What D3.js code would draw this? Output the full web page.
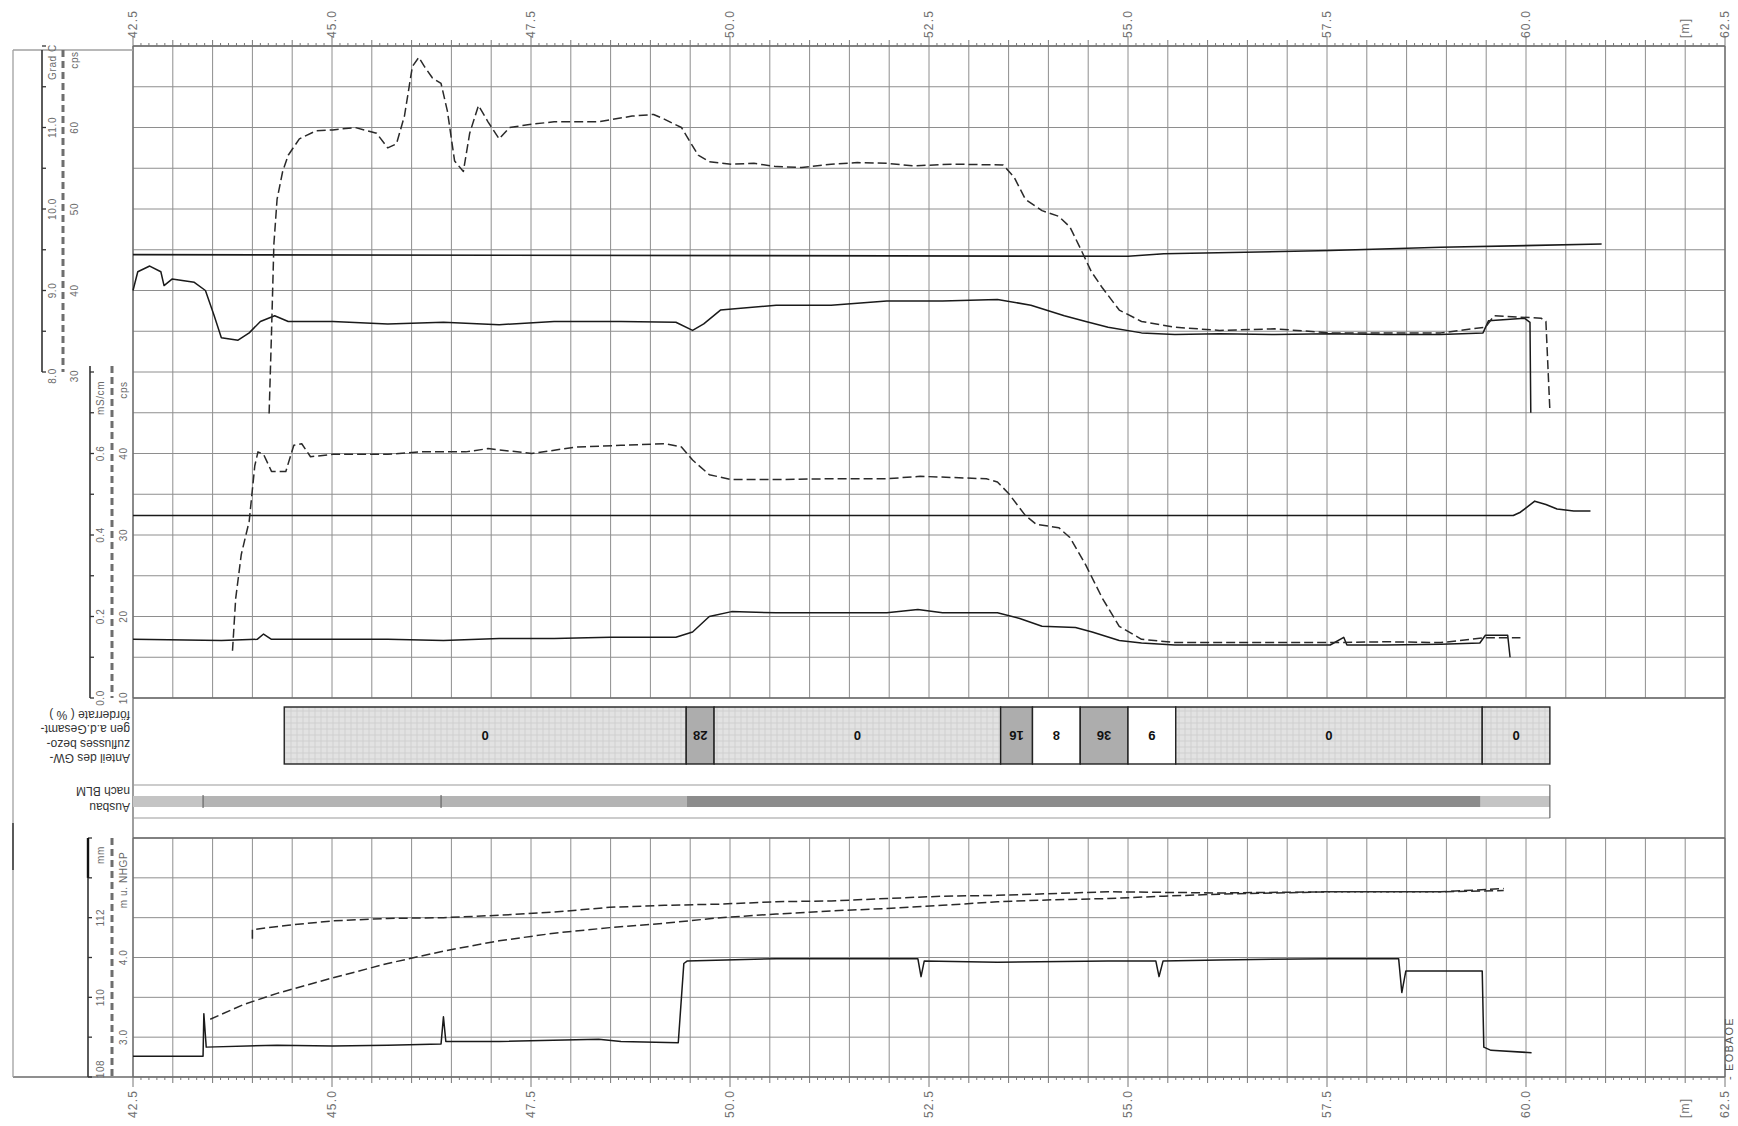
<!DOCTYPE html>
<html>
<head>
<meta charset="utf-8">
<script src="https://cdn.jsdelivr.net/npm/d3@7"></script>
<style>
body { margin: 0; background: #fff; }
svg { display: block; font-family: "Liberation Sans", Arial, sans-serif; }
</style>
</head>
<body>
<svg id="chart" width="1738" height="1126"></svg>
<script>
// depth ticks (m)
const depthLabels = ["42.5", "45.0", "47.5", "50.0", "52.5", "55.0", "57.5", "60.0", "62.5"];

// left scale labels
const tempTicks = [8, 9, 10, 11];
const cpsUpperTicks = [30, 40, 50, 60];
const condTicks = [0, 0.2, 0.4, 0.6];
const cpsLowerTicks = [10, 20, 30, 40];
const levelTicks = [108, 110, 112];
const diaTicks = [3, 4];

// upper panel: gamma (cps, dashed) and temperature (Grad C, solid)
const gammaUpper = [[44.21,24.9],[44.24,34.8],[44.27,45.7],[44.31,51.2],[44.38,54.6],[44.45,56.6],[44.59,58.6],[44.80,59.6],[45.01,59.7],[45.29,60.0],[45.56,59.3],[45.70,57.5],[45.81,58.0],[45.91,61.4],[46.01,67.5],[46.09,68.6],[46.16,67.5],[46.26,66.1],[46.37,65.4],[46.45,62.0],[46.54,55.9],[46.65,54.6],[46.73,59.3],[46.84,62.7],[46.96,60.7],[47.10,58.6],[47.23,60.0],[47.51,60.4],[47.79,60.7],[48.35,60.7],[48.77,61.4],[49.04,61.6],[49.18,61.0],[49.39,60.0],[49.60,56.6],[49.74,55.8],[50.02,55.5],[50.3,55.6],[50.58,55.2],[50.9,55.1],[51.27,55.5],[51.6,55.7],[51.97,55.6],[52.3,55.3],[52.80,55.5],[53.43,55.4],[53.57,53.9],[53.71,51.2],[53.92,49.8],[54.13,49.1],[54.27,47.8],[54.41,45.0],[54.54,42.3],[54.68,40.3],[54.89,37.6],[55.17,36.2],[55.59,35.5],[56.15,35.1],[56.84,35.3],[57.54,34.8],[58.24,34.8],[58.93,34.8],[59.49,35.5],[59.60,36.9],[60.19,36.6],[60.25,36.2],[60.30,25.3]];
const tempUpper = [[42.50,9.00],[42.56,9.23],[42.71,9.30],[42.85,9.23],[42.89,9.06],[42.99,9.14],[43.27,9.10],[43.41,9.00],[43.52,8.69],[43.61,8.42],[43.82,8.39],[43.96,8.48],[44.10,8.62],[44.28,8.69],[44.45,8.62],[45.01,8.62],[45.70,8.59],[46.40,8.61],[47.10,8.58],[47.79,8.62],[48.63,8.62],[49.32,8.61],[49.53,8.51],[49.67,8.59],[49.88,8.76],[50.58,8.82],[51.27,8.82],[51.97,8.87],[52.67,8.87],[53.36,8.89],[53.78,8.82],[54.20,8.69],[54.47,8.62],[54.75,8.55],[55.17,8.48],[55.59,8.46],[56.15,8.47],[56.84,8.46],[57.54,8.47],[58.24,8.46],[58.93,8.46],[59.46,8.48],[59.53,8.63],[59.98,8.66],[60.05,8.61],[60.06,7.50]];
const tempRef = [[42.50,9.44],[55.00,9.42],[55.45,9.45],[57.54,9.49],[58.93,9.53],[60.95,9.57]];

// middle panel: gamma (cps, dashed) and conductivity (mS/cm, solid)
const gammaLower = [[43.75,15.8],[43.79,22.2],[43.86,27.6],[43.96,31.7],[44.03,38.5],[44.07,40.2],[44.14,39.9],[44.24,37.8],[44.42,37.8],[44.52,41.0],[44.62,41.2],[44.73,39.6],[45.01,39.9],[45.70,39.9],[46.12,40.2],[46.68,40.2],[46.96,40.6],[47.51,40.0],[48.07,40.8],[48.63,41.0],[49.18,41.2],[49.39,40.8],[49.53,39.2],[49.74,37.4],[50.02,36.8],[50.58,36.8],[51.27,36.9],[51.97,36.9],[52.39,37.2],[53.22,36.9],[53.36,36.5],[53.50,35.1],[53.71,32.4],[53.85,31.3],[54.13,30.9],[54.27,29.7],[54.47,26.3],[54.68,22.2],[54.89,18.8],[55.17,17.2],[55.59,16.8],[56.15,16.8],[56.84,16.8],[57.54,16.8],[58.24,16.9],[58.93,16.8],[59.49,17.4],[59.93,17.4]];
const condLower = [[42.50,0.144],[43.61,0.141],[44.06,0.144],[44.14,0.157],[44.24,0.144],[45.70,0.144],[46.40,0.141],[47.10,0.146],[47.79,0.146],[48.49,0.149],[49.32,0.149],[49.53,0.162],[49.74,0.200],[50.02,0.212],[50.58,0.209],[51.97,0.209],[52.36,0.217],[52.67,0.209],[53.36,0.209],[53.64,0.195],[53.92,0.176],[54.34,0.173],[54.55,0.162],[54.89,0.141],[55.17,0.135],[55.59,0.130],[57.54,0.130],[57.71,0.149],[57.75,0.130],[58.24,0.130],[58.93,0.132],[59.42,0.135],[59.49,0.154],[59.77,0.154],[59.80,0.100]];
const condRef = [[42.50,0.448],[59.84,0.448],[59.93,0.456],[60.11,0.483],[60.25,0.475],[60.39,0.464],[60.60,0.459],[60.81,0.459]];

// inflow share of total pumping rate (%)
const inflowEdges = [44.4, 49.45, 49.8, 53.4, 53.8, 54.4, 55.0, 55.6, 59.45, 60.3];
const inflowValues = [0, 28, 0, 16, 8, 36, 9, 0, 0];

// well construction (Ausbau)
const casingEdges = [42.5, 43.38, 46.37, 49.46, 59.43, 60.3];
const casingType = [1, 2, 2, 3, 1];

// lower panel: levels (m / mm)
const levelSolid = [[42.50,108.52],[43.38,108.52],[43.39,109.59],[43.42,108.75],[44.31,108.80],[45.01,108.78],[45.70,108.80],[46.37,108.83],[46.40,109.51],[46.43,108.89],[47.10,108.89],[48.35,108.95],[48.63,108.89],[49.35,108.86],[49.42,110.85],[49.46,110.91],[50.58,110.97],[51.97,110.97],[52.36,110.97],[52.40,110.52],[52.44,110.91],[53.36,110.88],[54.75,110.91],[55.35,110.91],[55.39,110.52],[55.44,110.91],[56.15,110.94],[57.54,110.97],[58.40,110.97],[58.44,110.12],[58.49,110.66],[58.93,110.66],[59.45,110.66],[59.47,108.75],[59.56,108.67],[60.07,108.61]];
const levelDash1 = [[43.47,109.45],[43.89,109.82],[44.31,110.10],[45.01,110.49],[45.70,110.85],[46.40,111.16],[47.10,111.42],[47.79,111.61],[48.49,111.75],[49.18,111.86],[49.88,112.0],[50.58,112.09],[51.27,112.17],[51.97,112.23],[52.67,112.31],[53.36,112.40],[54.06,112.45],[54.75,112.48],[55.45,112.54],[56.15,112.59],[57.54,112.65],[58.93,112.65],[59.72,112.68]];
const levelDash2 = [[44.0,111.47],[44.0,111.70],[44.45,111.81],[45.01,111.92],[45.70,111.98],[46.40,112.0],[47.10,112.06],[47.79,112.14],[48.49,112.26],[49.18,112.31],[49.88,112.34],[50.58,112.40],[51.27,112.42],[51.97,112.48],[52.67,112.54],[53.36,112.56],[54.75,112.65],[56.15,112.62],[57.54,112.65],[58.93,112.65],[59.72,112.73]];

const svg = d3.select("#chart");

const x = d3.scaleLinear().domain([42.5, 62.5]).range([133, 1725]);
const yTemp = d3.scaleLinear().domain([8, 12]).range([372, 46]);
const yCps1 = d3.scaleLinear().domain([30, 70]).range([372, 46]);
const yCond = d3.scaleLinear().domain([0, 0.8]).range([698, 372]);
const yCps2 = d3.scaleLinear().domain([10, 50]).range([698, 372]);
const yLevel = d3.scaleLinear().domain([108, 114]).range([1077, 838]);
const yDia = d3.scaleLinear().domain([2.5, 5.5]).range([1077, 838]);

const defs = svg.append("defs");
const pat = defs.append("pattern").attr("id", "hatch").attr("patternUnits", "userSpaceOnUse")
    .attr("width", 6).attr("height", 6);
pat.append("rect").attr("width", 6).attr("height", 6).attr("fill", "#e2e2e2");
pat.append("path").attr("d", "M0 3H6M3 0V6").attr("stroke", "#d0d0d0").attr("stroke-width", 1);

// grid
const grid = svg.append("g").attr("stroke", "#8e8e8e").attr("stroke-width", 1);
const xGrid = d3.range(425, 626, 5).map(d => d / 10);
grid.selectAll("line.vu").data(xGrid).join("line").attr("class", "vu")
    .attr("x1", d => x(d)).attr("x2", d => x(d))
    .attr("y1", yTemp(12)).attr("y2", yCond(0));
grid.selectAll("line.vl").data(xGrid).join("line").attr("class", "vl")
    .attr("x1", d => x(d)).attr("x2", d => x(d))
    .attr("y1", yLevel(114)).attr("y2", yLevel(108));
grid.selectAll("line.ht").data(d3.range(16, 25).map(d => d / 2)).join("line").attr("class", "ht")
    .attr("x1", x(42.5)).attr("x2", x(62.5)).attr("y1", d => yTemp(d)).attr("y2", d => yTemp(d));
grid.selectAll("line.hc").data(d3.range(0, 8).map(d => d / 10)).join("line").attr("class", "hc")
    .attr("x1", x(42.5)).attr("x2", x(62.5)).attr("y1", d => yCond(d)).attr("y2", d => yCond(d));
grid.selectAll("line.hl").data(d3.range(108, 115)).join("line").attr("class", "hl")
    .attr("x1", x(42.5)).attr("x2", x(62.5)).attr("y1", d => yLevel(d)).attr("y2", d => yLevel(d));

// frame
const frame = svg.append("g").attr("stroke", "#6a6a6a").attr("fill", "none").attr("stroke-width", 1.3);
frame.append("line").attr("x1", x(42.5)).attr("x2", x(42.5)).attr("y1", 46).attr("y2", 1077);
frame.append("line").attr("x1", x(62.5)).attr("x2", x(62.5)).attr("y1", 46).attr("y2", 1077);
frame.append("line").attr("x1", x(42.5)).attr("x2", x(62.5)).attr("y1", 46).attr("y2", 46);
frame.append("line").attr("x1", x(42.5)).attr("x2", x(62.5)).attr("y1", yCond(0)).attr("y2", yCond(0));
frame.append("line").attr("x1", x(42.5)).attr("x2", x(62.5)).attr("y1", yLevel(114)).attr("y2", yLevel(114));
frame.append("line").attr("x1", 13).attr("x2", x(62.5)).attr("y1", 1077).attr("y2", 1077);
frame.append("line").attr("x1", 13).attr("x2", 13).attr("y1", 50).attr("y2", 1077).attr("stroke", "#a0a0a0");
frame.append("line").attr("x1", 13).attr("x2", 13).attr("y1", 823).attr("y2", 870).attr("stroke", "#222");
frame.append("line").attr("x1", 13).attr("x2", x(42.5)).attr("y1", 50).attr("y2", 50).attr("stroke", "#a0a0a0");

// depth rulers top and bottom
const rulerTicks = d3.range(425, 626);
const tickLen = i => i % 25 === 0 ? 10 : (i % 5 === 0 ? 6 : 3);
const ruler = svg.append("g").attr("stroke", "#777").attr("stroke-width", 1);
ruler.selectAll("line.rt").data(rulerTicks).join("line").attr("class", "rt")
    .attr("x1", d => x(d / 10)).attr("x2", d => x(d / 10))
    .attr("y1", 46).attr("y2", d => 46 - tickLen(d));
ruler.selectAll("line.rb").data(rulerTicks).join("line").attr("class", "rb")
    .attr("x1", d => x(d / 10)).attr("x2", d => x(d / 10))
    .attr("y1", 1077).attr("y2", d => 1077 + tickLen(d));

const depthVals = depthLabels.map(Number);
const lab = svg.append("g").attr("fill", "#707070").attr("font-size", 12).attr("letter-spacing", 1.2);
lab.selectAll("text.dt").data(depthVals).join("text").attr("class", "dt")
    .attr("transform", (d, i) => `translate(${x(d)},38) rotate(-90)`)
    .attr("dominant-baseline", "central")
    .text((d, i) => depthLabels[i]);
lab.selectAll("text.db").data(depthVals).join("text").attr("class", "db")
    .attr("transform", d => `translate(${x(d)},1118) rotate(-90)`)
    .attr("dominant-baseline", "central")
    .text((d, i) => depthLabels[i]);
lab.append("text").attr("transform", `translate(${x(62.0)},38) rotate(-90)`)
    .attr("dominant-baseline", "central").text("[m]");
lab.append("text").attr("transform", `translate(${x(62.0)},1118) rotate(-90)`)
    .attr("dominant-baseline", "central").text("[m]");
lab.append("text").attr("transform", "translate(1729,1080) rotate(-90)")
    .attr("dominant-baseline", "central").attr("font-size", 11).attr("fill", "#555").text("- EOBAOE");

// left scales
function vLabel(g, xPos, yPos, txt) {
    g.append("text").attr("transform", `translate(${xPos},${yPos}) rotate(-90)`)
        .attr("text-anchor", "middle").attr("dominant-baseline", "central").text(txt);
}
function scaleBar(lineX, y0, y1, tickYs, dashX) {
    const g = svg.append("g");
    g.append("line").attr("x1", lineX).attr("x2", lineX).attr("y1", y0).attr("y2", y1)
        .attr("stroke", "#333").attr("stroke-width", 1.6);
    g.selectAll("line.t").data(tickYs).join("line").attr("class", "t")
        .attr("x1", lineX).attr("x2", lineX + 4).attr("y1", d => d).attr("y2", d => d)
        .attr("stroke", "#333").attr("stroke-width", 1.3);
    g.append("line").attr("x1", dashX).attr("x2", dashX).attr("y1", y0).attr("y2", y1)
        .attr("stroke", "#6e6e6e").attr("stroke-width", 3).attr("stroke-dasharray", "7,4");
}
scaleBar(42, 50, yTemp(8), d3.range(16, 25).map(d => yTemp(d / 2)), 63);
scaleBar(90, yCond(0.8) - 6, yCond(0), d3.range(0, 9).map(d => yCond(d / 10)), 112);
scaleBar(88, yLevel(114), yLevel(108), d3.range(108, 115).map(d => yLevel(d)), 112);
svg.append("line").attr("x1", 88).attr("x2", 88).attr("y1", yLevel(114)).attr("y2", yLevel(113))
    .attr("stroke", "#111").attr("stroke-width", 2.4);

const sl = svg.append("g").attr("fill", "#6a6a6a").attr("font-size", 10).attr("letter-spacing", 0.6);
tempTicks.forEach(v => vLabel(sl, 52, yTemp(v) + (v === 8 ? 4 : 0), v.toFixed(1)));
vLabel(sl, 52, 62, "Grad C");
cpsUpperTicks.forEach(v => vLabel(sl, 74, yCps1(v) + (v === 30 ? 4 : 0), String(v)));
vLabel(sl, 74, 60, "cps");
condTicks.forEach(v => vLabel(sl, 100, yCond(v), v.toFixed(1)));
vLabel(sl, 100, 398, "mS/cm");
cpsLowerTicks.forEach(v => vLabel(sl, 123, yCps2(v), String(v)));
vLabel(sl, 123, 390, "cps");
levelTicks.forEach(v => vLabel(sl, 100, yLevel(v) - (v === 108 ? 8 : 0), String(v)));
vLabel(sl, 100, 855, "mm");
diaTicks.forEach(v => vLabel(sl, 123, yDia(v), v.toFixed(1)));
vLabel(sl, 123, 880, "m u. NHGP");

// inflow share band
const boxTop = 707, boxBot = 764;
const inflow = svg.append("g");
const shade = v => v === 0 ? "url(#hatch)" : (v >= 10 ? "#adadad" : "#ffffff");
inflow.selectAll("rect").data(inflowValues).join("rect")
    .attr("x", (d, i) => x(inflowEdges[i]))
    .attr("width", (d, i) => x(inflowEdges[i + 1]) - x(inflowEdges[i]))
    .attr("y", boxTop).attr("height", boxBot - boxTop)
    .attr("fill", d => shade(d)).attr("stroke", "#222").attr("stroke-width", 1.4);
inflow.selectAll("text").data(inflowValues).join("text")
    .attr("transform", (d, i) => `translate(${(x(inflowEdges[i]) + x(inflowEdges[i + 1])) / 2},${(boxTop + boxBot) / 2}) rotate(180)`)
    .attr("text-anchor", "middle").attr("dominant-baseline", "central")
    .attr("font-size", 13).attr("font-weight", "bold").attr("fill", "#111")
    .text(d => d);

const bandLab = svg.append("g").attr("fill", "#333").attr("font-size", 12);
[["förderrate ( % )", 715], ["gen a.d.Gesamt-", 729], ["zuflusses bezo-", 744], ["Anteil des GW-", 758],
 ["nach BLM", 791], ["Ausbau", 807]].forEach(([t, yy]) => {
    bandLab.append("text").attr("transform", `translate(130,${yy}) rotate(180)`)
        .attr("text-anchor", "start").attr("dominant-baseline", "central").text(t);
});

// well construction band
const casingColor = { 1: "#c4c4c4", 2: "#b4b4b4", 3: "#8c8c8c" };
const cas = svg.append("g");
cas.append("line").attr("x1", x(42.5)).attr("x2", x(60.3)).attr("y1", 785).attr("y2", 785)
    .attr("stroke", "#999").attr("stroke-width", 1.2);
cas.append("line").attr("x1", x(42.5)).attr("x2", x(60.3)).attr("y1", 818).attr("y2", 818)
    .attr("stroke", "#999").attr("stroke-width", 1.2);
cas.selectAll("rect").data(casingType).join("rect")
    .attr("x", (d, i) => x(casingEdges[i]))
    .attr("width", (d, i) => x(casingEdges[i + 1]) - x(casingEdges[i]))
    .attr("y", 796).attr("height", 11)
    .attr("fill", d => casingColor[d]);
cas.selectAll("line.div").data(casingEdges.slice(1, 3)).join("line").attr("class", "div")
    .attr("x1", d => x(d)).attr("x2", d => x(d)).attr("y1", 795).attr("y2", 808)
    .attr("stroke", "#555");
cas.append("line").attr("x1", x(60.3)).attr("x2", x(60.3)).attr("y1", 785).attr("y2", 818)
    .attr("stroke", "#666").attr("stroke-width", 1.2);

// curves
function drawLine(data, yS, dashed, width) {
    svg.append("path").datum(data)
        .attr("d", d3.line().x(d => x(d[0])).y(d => yS(d[1])))
        .attr("fill", "none").attr("stroke", dashed ? "#2a2a2a" : "#1a1a1a")
        .attr("stroke-width", width || 1.5)
        .attr("stroke-dasharray", dashed ? "9,4" : null)
        .attr("stroke-linejoin", "round");
}
drawLine(tempRef, yTemp, false, 1.6);
drawLine(tempUpper, yTemp, false);
drawLine(gammaUpper, yCps1, true);
drawLine(condRef, yCond, false, 1.6);
drawLine(condLower, yCond, false);
drawLine(gammaLower, yCps2, true);
drawLine(levelDash2, yLevel, true);
drawLine(levelDash1, yLevel, true);
drawLine(levelSolid, yLevel, false);
</script>
</body>
</html>
